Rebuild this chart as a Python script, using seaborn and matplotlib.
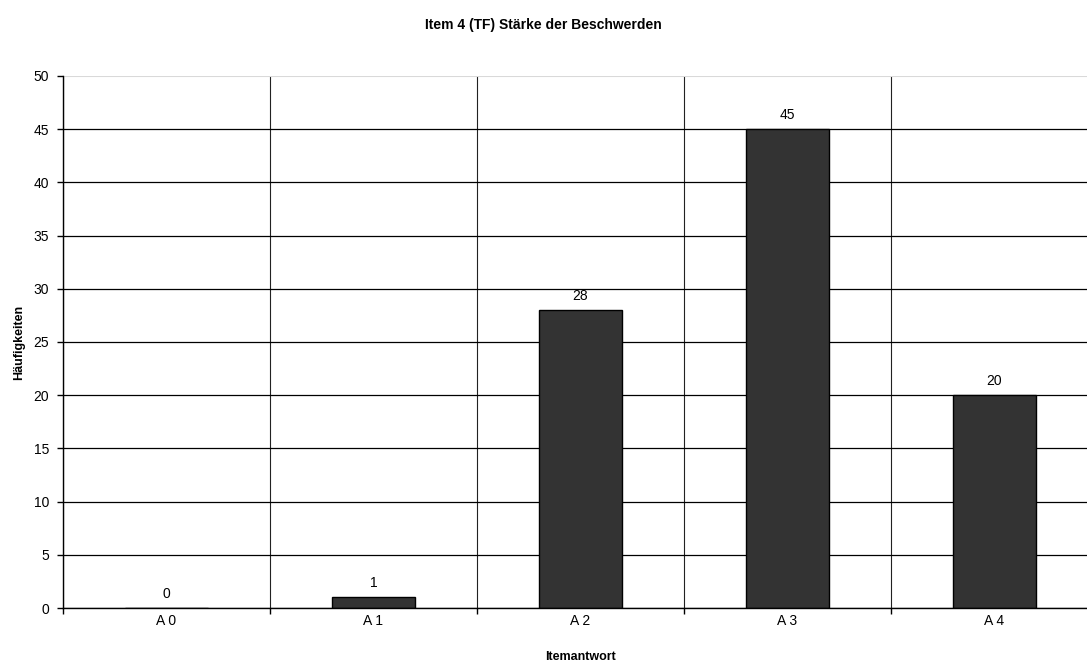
import numpy as np
import pandas as pd
import matplotlib
matplotlib.use("Agg")
import matplotlib.pyplot as plt
import seaborn as sns

# Daten
antworten = ["A 0", "A 1", "A 2", "A 3", "A 4"]
haeufigkeiten = [0, 1, 28, 45, 20]

df = pd.DataFrame({"Itemantwort": antworten, "Häufigkeiten": haeufigkeiten})

sns.set_style("white")
plt.rcParams["font.family"] = ["Liberation Sans", "DejaVu Sans"]
plt.rcParams["text.color"] = "black"
plt.rcParams["axes.labelcolor"] = "black"
plt.rcParams["xtick.color"] = "black"
plt.rcParams["ytick.color"] = "black"

fig = plt.figure(figsize=(10.87, 6.66), dpi=100)
ax = fig.add_axes([0.058, 0.087, 0.952, 0.799])

sns.barplot(data=df, x="Itemantwort", y="Häufigkeiten", color="#333333",
            edgecolor="black", linewidth=1, width=0.4, saturation=1, ax=ax)

ax.set_xlim(-0.5, 4.5)
ax.set_ylim(0, 50)
ax.set_yticks(np.arange(0, 51, 5))
ax.set_xticks(np.arange(-0.5, 5, 1), minor=True)

# Gitter
ax.set_axisbelow(True)
ax.grid(axis="y", which="major", color="black", linewidth=0.9)
ax.grid(axis="x", which="minor", color="#222222", linewidth=0.8)
ax.grid(axis="x", which="major", visible=False)
ax.yaxis.get_gridlines()[-1].set_color("#d9d9d9")
ax.yaxis.get_gridlines()[-1].set_linewidth(1.5)

for s in ["top", "right"]:
    ax.spines[s].set_visible(False)
ax.spines["left"].set_color("black")
ax.spines["bottom"].set_color("black")
ax.spines["left"].set_linewidth(1)
ax.spines["bottom"].set_linewidth(1)

ax.tick_params(axis="y", which="major", direction="out", length=4, width=1, left=True, labelsize=10, pad=6)
ax.tick_params(axis="x", which="major", length=0, labelsize=10, pad=4)
ax.tick_params(axis="x", which="minor", direction="out", length=4, width=1, bottom=True)

for i, v in enumerate(haeufigkeiten):
    ax.annotate(str(v), (i, v), xytext=(0, 5), textcoords="offset points",
                ha="center", va="bottom", fontsize=10)

ax.set_xlabel("Itemantwort", fontsize=9, fontweight="bold", labelpad=17)
ax.set_ylabel("Häufigkeiten", fontsize=9, fontweight="bold", labelpad=6)
fig.suptitle("Item 4 (TF) Stärke der Beschwerden", fontsize=10, fontweight="bold", y=0.973)

fig.savefig("out.png", dpi=100)
